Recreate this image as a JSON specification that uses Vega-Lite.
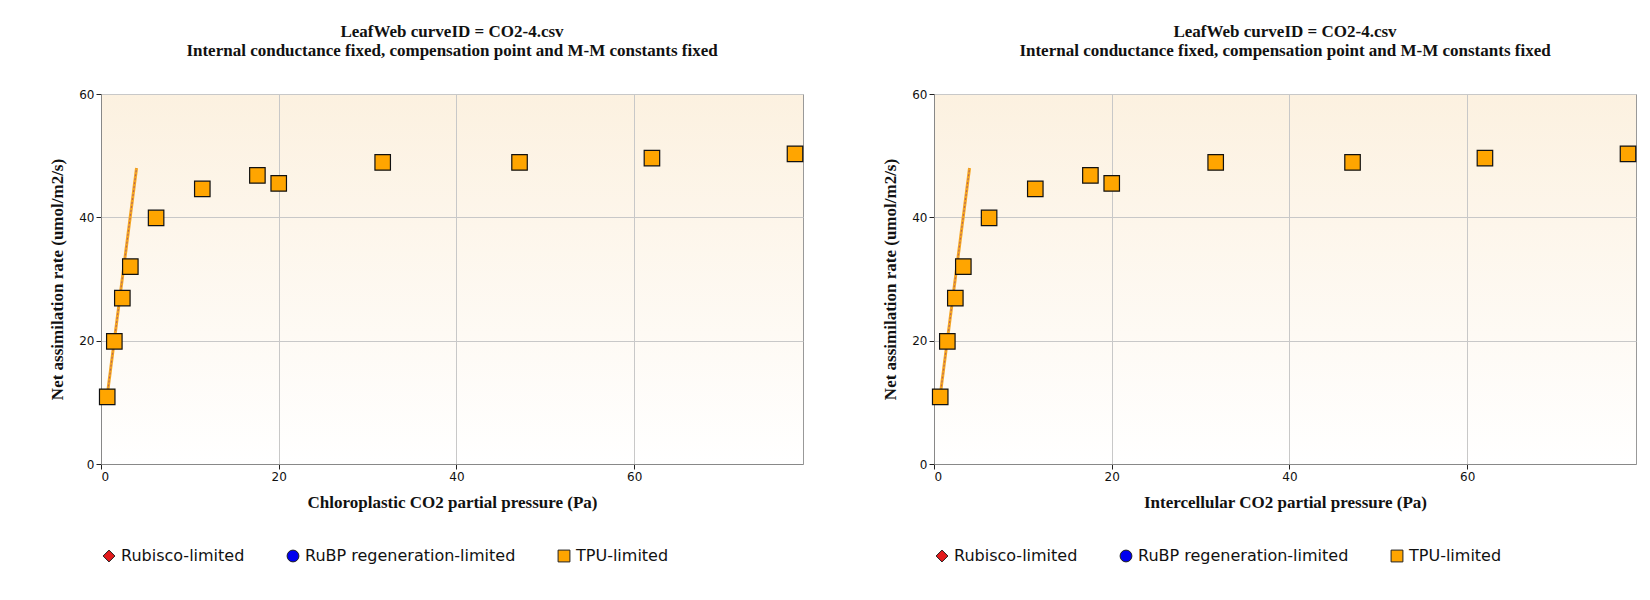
{
"$schema":"https://vega.github.io/schema/vega-lite/v6.json",
"background":"white",
"padding":{"left":48,"top":22,"right":10,"bottom":5},
"datasets":{
"pts":[{"ci":0.7,"a":10.9,"type":"TPU-limited"},{"ci":1.5,"a":19.9,"type":"TPU-limited"},{"ci":2.4,"a":26.9,"type":"TPU-limited"},{"ci":3.3,"a":32.0,"type":"TPU-limited"},{"ci":6.2,"a":39.9,"type":"TPU-limited"},{"ci":11.4,"a":44.6,"type":"TPU-limited"},{"ci":17.6,"a":46.8,"type":"TPU-limited"},{"ci":20.0,"a":45.5,"type":"TPU-limited"},{"ci":31.7,"a":48.9,"type":"TPU-limited"},{"ci":47.1,"a":48.9,"type":"TPU-limited"},{"ci":62.0,"a":49.6,"type":"TPU-limited"},{"ci":78.1,"a":50.3,"type":"TPU-limited"}],
"ln":[{"ci":0.6,"a":10.0},{"ci":4.0,"a":48.0}]
},
"config":{
"font":"DejaVu Sans",
"view":{"stroke":"#999","fill":{"gradient":"linear","x1":0,"y1":0,"x2":0,"y2":1,"stops":[{"offset":0,"color":"#fcf1e0"},{"offset":1,"color":"#ffffff"}]}},
"title":{"font":"Liberation Serif","fontSize":17,"fontWeight":"bold","color":"#111","subtitleFont":"Liberation Serif","subtitleFontSize":17,"subtitleFontWeight":"bold","subtitleColor":"#111","subtitlePadding":2,"offset":28},
"axis":{"grid":true,"gridColor":"#c8c8c8","domainColor":"#888","tickColor":"#222","labelFontSize":12,"labelColor":"#111","titleFont":"Liberation Serif","titleFontSize":17,"titleFontWeight":"bold","titleColor":"#111","titlePadding":12},
"legend":{"orient":"bottom","direction":"horizontal","title":null,"labelFontSize":16,"labelColor":"#111","labelLimit":300,"symbolSize":140,"columnPadding":40,"offset":38,"symbolStrokeColor":"#222","symbolStrokeWidth":1}
},
"spacing":75,
"hconcat":[
{"width":702,"height":370,
"title":{"text":"LeafWeb curveID = CO2-4.csv","subtitle":"Internal conductance fixed, compensation point and M-M constants fixed"},
"layer":[
{"data":{"name":"ln"},"mark":{"type":"line","color":"#f5a623","strokeWidth":3},"encoding":{"x":{"field":"ci","type":"quantitative"},"y":{"field":"a","type":"quantitative"}}},
{"data":{"name":"ln"},"mark":{"type":"line","color":"#b06060","strokeWidth":1,"strokeDash":[2,2]},"encoding":{"x":{"field":"ci","type":"quantitative"},"y":{"field":"a","type":"quantitative"}}},
{"data":{"name":"pts"},"mark":{"type":"point","filled":true,"size":240,"stroke":"#111","strokeWidth":1.2,"opacity":1},
"encoding":{
"x":{"field":"ci","type":"quantitative","scale":{"domain":[0,79],"nice":false},"axis":{"values":[0,20,40,60]},"title":"Chloroplastic CO2 partial pressure (Pa)"},
"y":{"field":"a","type":"quantitative","scale":{"domain":[0,60]},"axis":{"values":[0,20,40,60]},"title":"Net assimilation rate (umol/m2/s)"},
"color":{"field":"type","type":"nominal","scale":{"domain":["Rubisco-limited","RuBP regeneration-limited","TPU-limited"],"range":["#e31a1c","#0000ee","#ffa500"]}},
"shape":{"field":"type","type":"nominal","scale":{"domain":["Rubisco-limited","RuBP regeneration-limited","TPU-limited"],"range":["diamond","circle","square"]}}}}
]},
{"width":702,"height":370,
"title":{"text":"LeafWeb curveID = CO2-4.csv","subtitle":"Internal conductance fixed, compensation point and M-M constants fixed"},
"layer":[
{"data":{"name":"ln"},"mark":{"type":"line","color":"#f5a623","strokeWidth":3},"encoding":{"x":{"field":"ci","type":"quantitative"},"y":{"field":"a","type":"quantitative"}}},
{"data":{"name":"ln"},"mark":{"type":"line","color":"#b06060","strokeWidth":1,"strokeDash":[2,2]},"encoding":{"x":{"field":"ci","type":"quantitative"},"y":{"field":"a","type":"quantitative"}}},
{"data":{"name":"pts"},"mark":{"type":"point","filled":true,"size":240,"stroke":"#111","strokeWidth":1.2,"opacity":1},
"encoding":{
"x":{"field":"ci","type":"quantitative","scale":{"domain":[0,79],"nice":false},"axis":{"values":[0,20,40,60]},"title":"Intercellular CO2 partial pressure (Pa)"},
"y":{"field":"a","type":"quantitative","scale":{"domain":[0,60]},"axis":{"values":[0,20,40,60]},"title":"Net assimilation rate (umol/m2/s)"},
"color":{"field":"type","type":"nominal","scale":{"domain":["Rubisco-limited","RuBP regeneration-limited","TPU-limited"],"range":["#e31a1c","#0000ee","#ffa500"]}},
"shape":{"field":"type","type":"nominal","scale":{"domain":["Rubisco-limited","RuBP regeneration-limited","TPU-limited"],"range":["diamond","circle","square"]}}}}
]}
],
"resolve":{"scale":{"x":"independent","color":"independent","shape":"independent"},"legend":{"color":"independent","shape":"independent"}}
}
